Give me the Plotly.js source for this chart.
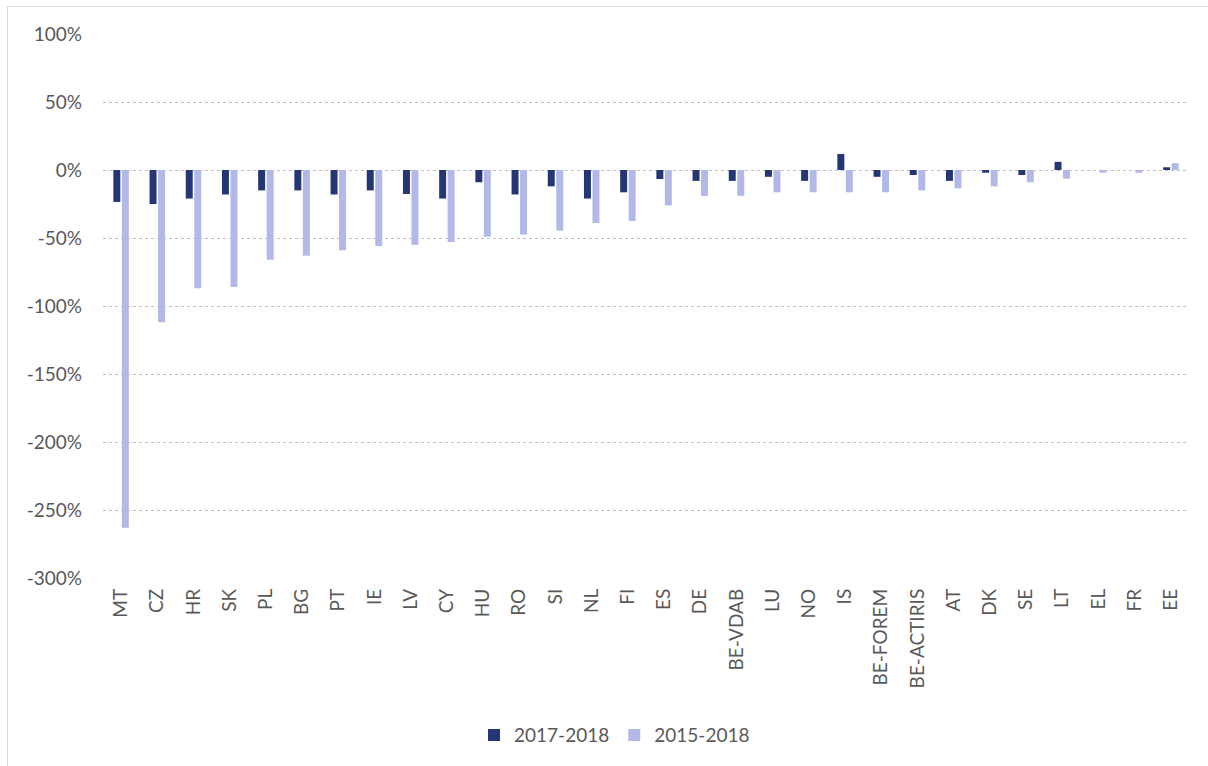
<!DOCTYPE html>
<html>
<head>
<meta charset="utf-8">
<script src="https://cdn.plot.ly/plotly-3.0.1.min.js"></script>
<style>
  html, body { margin: 0; padding: 0; background: #ffffff; }
  #frame { position: absolute; left: 7px; top: 6px; width: 1201px; height: 760px;
           border-left: 1px solid #d9d9d9; border-top: 1px solid #d9d9d9; pointer-events: none; }
  #chart { position: absolute; left: 0; top: 0; width: 1208px; height: 766px; }
</style>
</head>
<body>
<div id="chart"></div>
<div id="frame"></div>
<script>
// Change in share, by public employment service
const categories = ["MT", "CZ", "HR", "SK", "PL", "BG", "PT", "IE", "LV", "CY",
  "HU", "RO", "SI", "NL", "FI", "ES", "DE", "BE-VDAB", "LU", "NO",
  "IS", "BE-FOREM", "BE-ACTIRIS", "AT", "DK", "SE", "LT", "EL", "FR", "EE"];

const change2017_2018 = [-23.5, -25, -21, -18, -15, -15, -18, -15, -17.6, -21,
  -9, -18, -12, -21, -16.4, -6.6, -8, -8, -5, -8,
  11.8, -5, -3.7, -8, -2, -3.7, 6, 0, 0, 2];

const change2015_2018 = [-263, -112, -87, -86, -66, -63, -59, -56, -55, -53,
  -49, -47.5, -44.6, -39, -37.5, -26, -19, -19, -16.4, -16.4,
  -16.4, -16.4, -15, -13.5, -12, -9, -6.4, -2, -2, 5];

const yTicks = [100, 50, 0, -50, -100, -150, -200, -250, -300];

const labelFont = { family: "Lato, 'Open Sans', sans-serif", size: 19, color: "#595959" };

const traces = [
  { type: "bar", name: "2017-2018", x: categories, y: change2017_2018,
    marker: { color: "#243673" } },
  { type: "bar", name: "2015-2018", x: categories, y: change2015_2018,
    marker: { color: "#b2b9e8" } }
];

const layout = {
  width: 1208, height: 766,
  margin: { l: 103, r: 19, t: 34, b: 188 },
  paper_bgcolor: "rgba(0,0,0,0)", plot_bgcolor: "#ffffff",
  barmode: "group", bargap: 0.53, bargroupgap: 0.18,
  font: labelFont,
  showlegend: true,
  legend: { orientation: "h", x: 0.471, xanchor: "center", y: -0.289, yanchor: "middle",
            font: labelFont, itemwidth: 30, traceorder: "normal" },
  xaxis: { type: "category", tickangle: -90, showgrid: false, zeroline: false,
           showline: false, ticks: "", ticklabelstandoff: 6, tickfont: labelFont },
  yaxis: { range: [-300, 100], tickvals: yTicks, ticktext: yTicks.map(v => v + "%"),
           showgrid: true, gridcolor: "#c0c0c0", griddash: "dot", gridwidth: 1,
           zeroline: false, showline: false, ticks: "", ticklabelstandoff: 20,
           tickfont: labelFont }
};

Plotly.newPlot("chart", traces, layout, { displayModeBar: false, staticPlot: true });
</script>
</body>
</html>
